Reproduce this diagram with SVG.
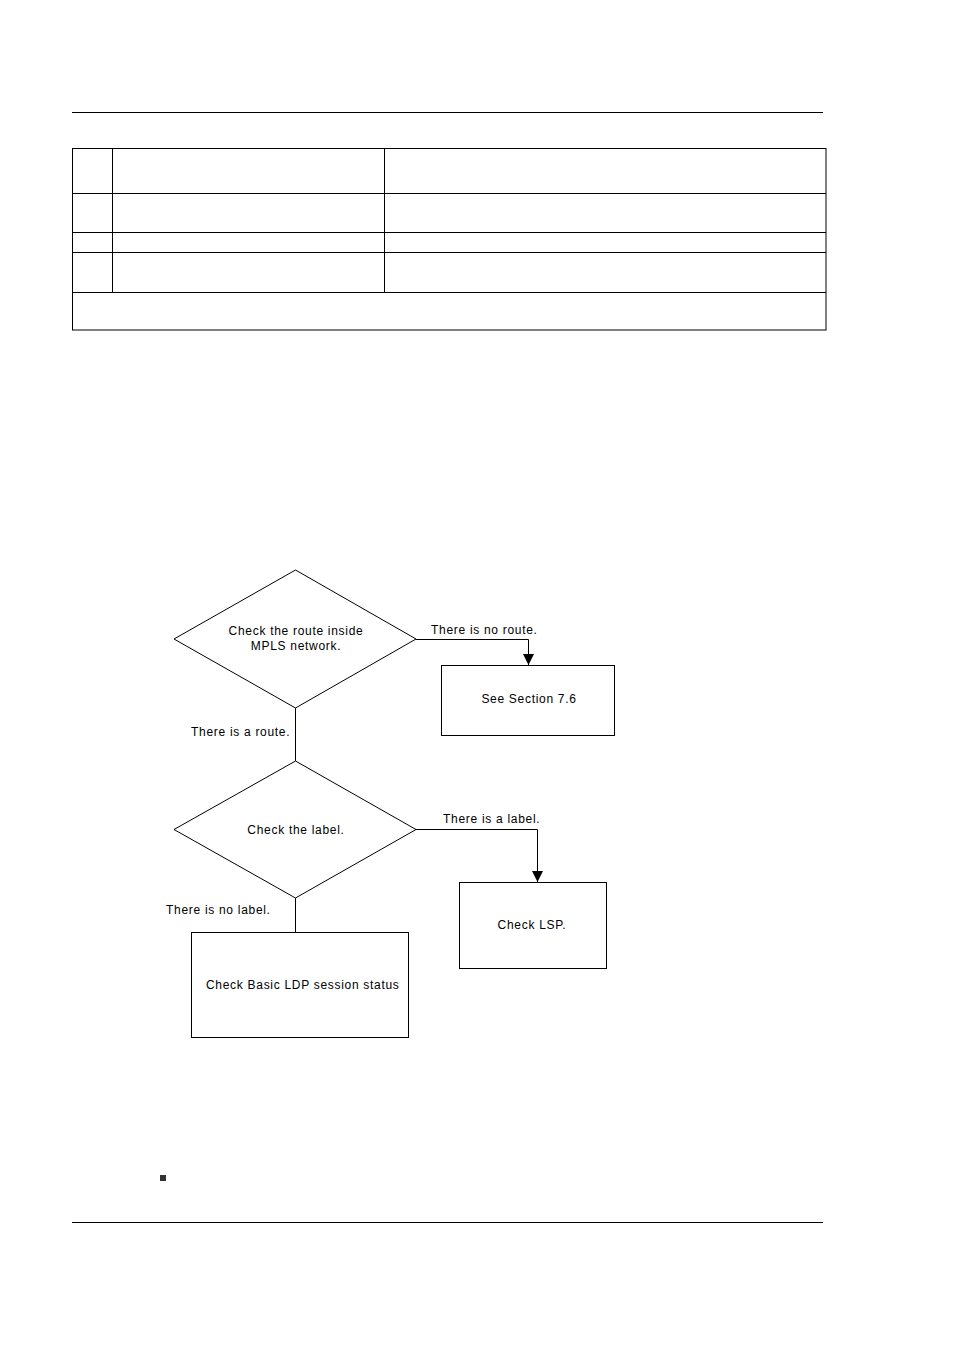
<svg xmlns="http://www.w3.org/2000/svg" width="954" height="1351" viewBox="0 0 954 1351">
<style>
.l{stroke:#000;stroke-width:1;fill:none}
.n{stroke:#000;stroke-width:1;fill:#fff}
text{font-family:"Liberation Sans",Arial,sans-serif;font-size:12px;letter-spacing:0.7px;fill:#000}
</style>
<defs><marker id="a" markerWidth="12" markerHeight="12" refX="5.5" refY="11" orient="0" markerUnits="userSpaceOnUse"><path d="M0,0 L11,0 L5.5,11 Z" fill="#000"/></marker></defs>
<rect width="954" height="1351" fill="#fff"/>
<line class="l" x1="72" y1="112.5" x2="823" y2="112.5"/>
<line class="l" x1="72" y1="1222.5" x2="823" y2="1222.5"/>
<g id="table">
<rect x="72.5" y="148.5" width="753.5" height="181.5" class="l" stroke-width="1.5"/>
<line class="l" x1="72" y1="193.5" x2="826" y2="193.5" stroke-width="2"/>
<line class="l" x1="72" y1="232.5" x2="826" y2="232.5"/>
<line class="l" x1="72" y1="252.5" x2="826" y2="252.5"/>
<line class="l" x1="72" y1="292.5" x2="826" y2="292.5"/>
<line class="l" x1="112.5" y1="148" x2="112.5" y2="292"/>
<line class="l" x1="384.5" y1="148" x2="384.5" y2="292"/>
</g>
<rect x="160" y="1175" width="6" height="6" fill="#333"/>
<g id="connectors">
<polyline class="l" points="416,639.5 528.5,639.5 528.5,665" marker-end="url(#a)"/>
<line class="l" x1="295.5" y1="708" x2="295.5" y2="761"/>
<polyline class="l" points="416,829.5 537.5,829.5 537.5,882" marker-end="url(#a)"/>
<line class="l" x1="295.5" y1="898" x2="295.5" y2="932"/>
<text x="431" y="634">There is no route.</text>
<text x="191" y="736">There is a route.</text>
<text x="443" y="823">There is a label.</text>
<text x="166" y="914">There is no label.</text>
</g>
<g id="d1"><polygon class="n" points="295.5,570 416,639 295.5,708 174,639"/>
<text x="296" y="635" text-anchor="middle">Check the route inside</text>
<text x="296" y="650" text-anchor="middle">MPLS network.</text></g>
<g id="b1"><rect class="n" x="441.5" y="665.5" width="173" height="70"/>
<text x="529" y="703" text-anchor="middle">See Section 7.6</text></g>
<g id="d2"><polygon class="n" points="295.5,761 416,829.5 295.5,898 174,829.5"/>
<text x="296" y="834" text-anchor="middle">Check the label.</text></g>
<g id="b2"><rect class="n" x="459.5" y="882.5" width="147" height="86"/>
<text x="532" y="929" text-anchor="middle">Check LSP.</text></g>
<g id="b3"><rect class="n" x="191.5" y="932.5" width="217" height="105"/>
<text x="206" y="989">Check Basic LDP session status</text></g>
</svg>
